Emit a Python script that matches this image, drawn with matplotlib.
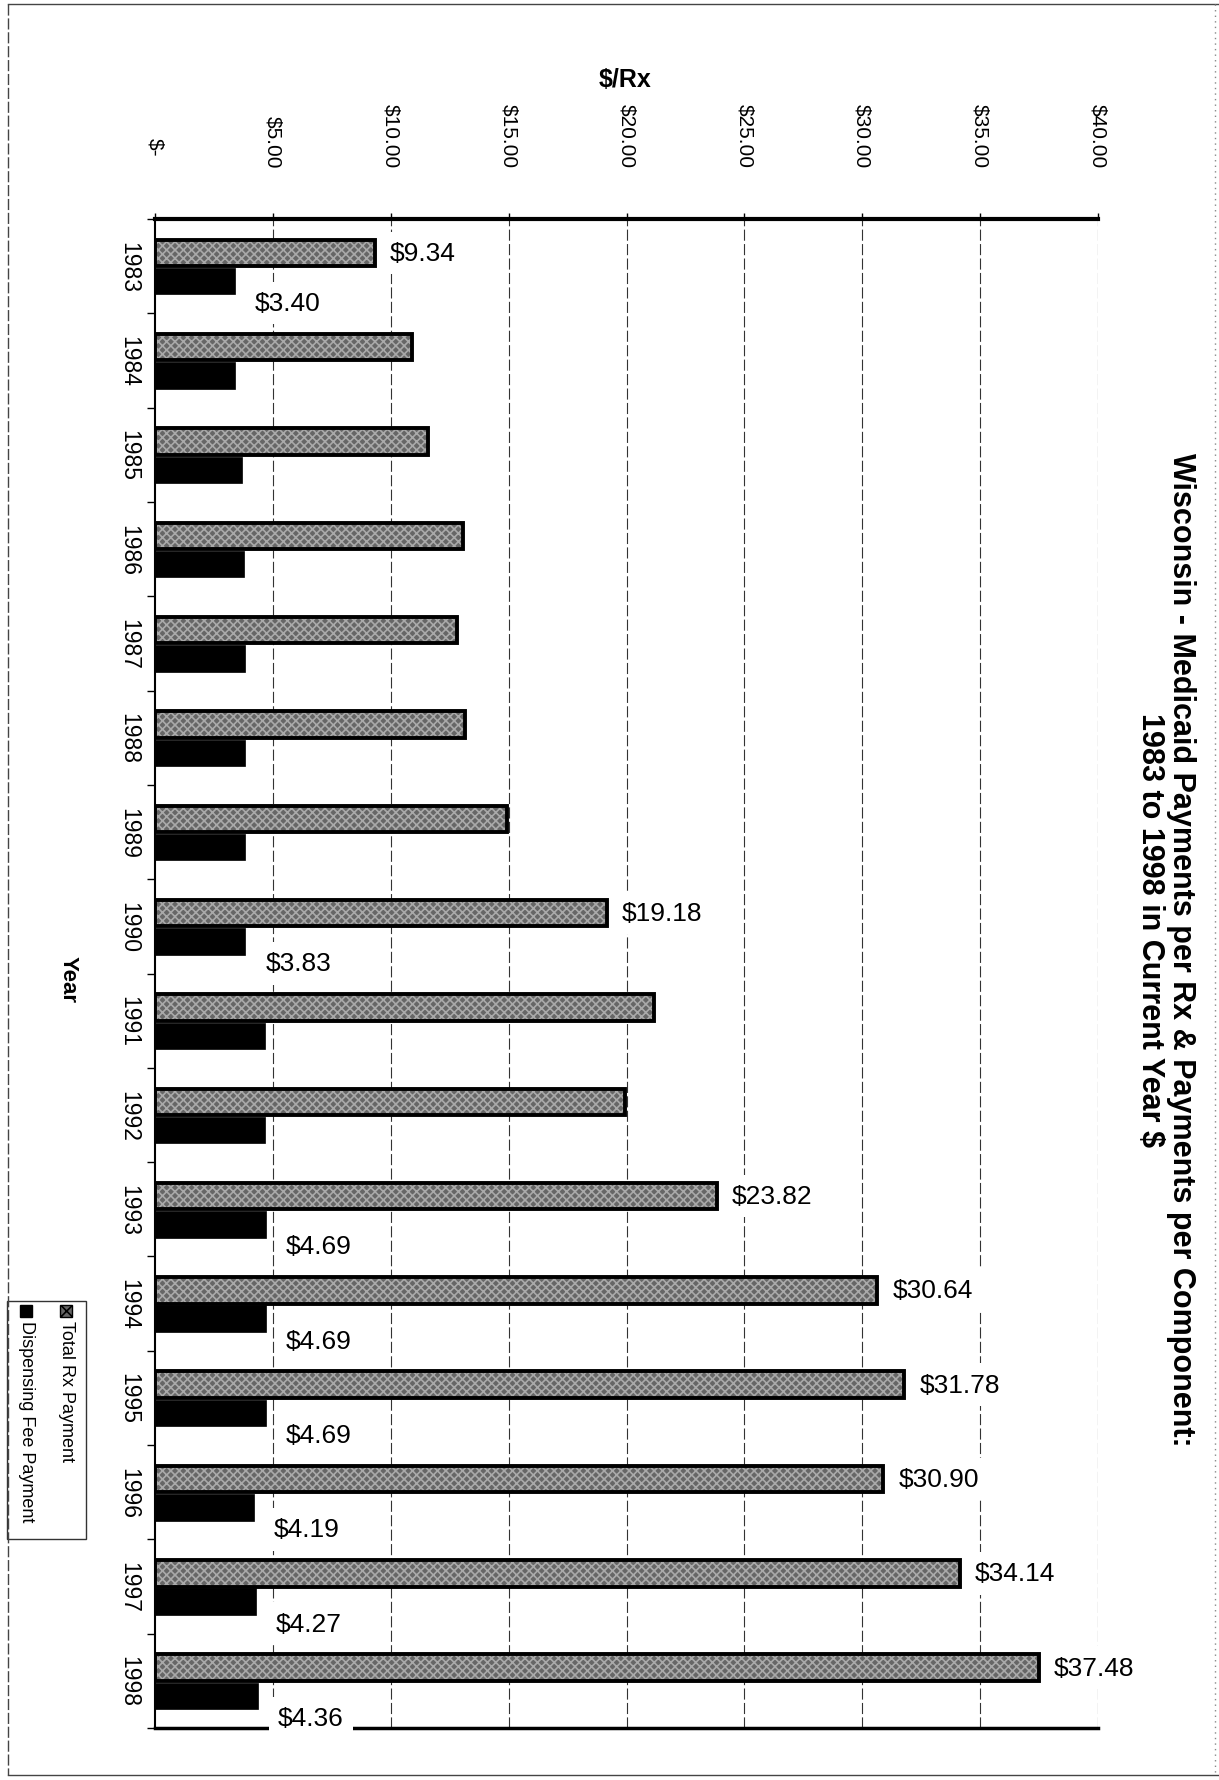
import numpy as np
import matplotlib
matplotlib.use("Agg")
import matplotlib.pyplot as plt
from matplotlib.patches import Rectangle
from matplotlib.lines import Line2D

plt.rcParams['font.family'] = ['Liberation Sans', 'DejaVu Sans']
plt.rcParams['hatch.linewidth'] = 1.2

# ---- data -------------------------------------------------------------
years = [1983, 1984, 1985, 1986, 1987, 1988, 1989, 1990,
         1991, 1992, 1993, 1994, 1995, 1996, 1997, 1998]
total_rx = [9.34, 10.92, 11.60, 13.05, 12.82, 13.15, 14.95, 19.18,
            21.15, 19.93, 23.82, 30.64, 31.78, 30.90, 34.14, 37.48]
dispensing_fee = [3.40, 3.40, 3.70, 3.78, 3.82, 3.82, 3.83, 3.83,
                  4.65, 4.65, 4.69, 4.69, 4.69, 4.19, 4.27, 4.36]
labeled_years = [1983, 1990, 1993, 1994, 1995, 1996, 1997, 1998]
value_ticks = [0, 5, 10, 15, 20, 25, 30, 35, 40]
value_tick_labels = ["$-", "$5.00", "$10.00", "$15.00", "$20.00",
                     "$25.00", "$30.00", "$35.00", "$40.00"]
series_names = ["Total Rx Payment", "Dispensing Fee Payment"]
title_lines = ["Wisconsin - Medicaid Payments per Rx & Payments per Component:",
               "1983 to 1998 in Current Year $"]
value_axis_title = "$/Rx"
category_axis_title = "Year"

# ---- figure / axes (page is laid out sideways) -----------------------
W, H = 1219, 1781
fig = plt.figure(figsize=(W / 100, H / 100), dpi=100)
fig.patch.set_facecolor('white')

ax_left, ax_right, ax_top, ax_bottom = 155, 1098, 220, 1729
ax = fig.add_axes([ax_left / W, 1 - ax_bottom / H,
                   (ax_right - ax_left) / W, (ax_bottom - ax_top) / H])

pos = np.arange(len(years))
tot_off, fee_off, bar_h = -0.14, 0.16, 0.28
TOTAL_FACE, TOTAL_SPECKLE = '#666666', '#a9a9a9'

# textured grey bars for total payment, outlined in black
ax.barh(pos + tot_off, total_rx, height=bar_h, color=TOTAL_FACE,
        edgecolor=TOTAL_SPECKLE, hatch='xxxx', linewidth=0, zorder=2)
ax.barh(pos + tot_off, total_rx, height=bar_h, fill=False,
        edgecolor='black', linewidth=2.8, zorder=2.1)
# solid black bars for the dispensing fee
ax.barh(pos + fee_off, dispensing_fee, height=bar_h, color='black',
        edgecolor='black', linewidth=0.5, zorder=2)

ax.set_xlim(value_ticks[0], value_ticks[-1])
ax.set_ylim(len(years) - 0.5, -0.5)

# dashed gridlines at each value tick
for v in value_ticks[1:]:
    ax.axvline(v, color='#333333', lw=0.8, ls=(0, (10, 3)), zorder=1)

ax.spines['right'].set_visible(False)
ax.spines['top'].set_linewidth(3.0)
ax.spines['left'].set_linewidth(1.5)
ax.spines['bottom'].set_linewidth(2.5)

ax.set_xticks(value_ticks)
ax.xaxis.set_ticks_position('top')
ax.tick_params(axis='x', length=4.5, width=1, direction='out',
               labeltop=False, labelbottom=False)
ax.set_yticks(np.arange(len(years) + 1) - 0.5)
ax.tick_params(axis='y', length=5.5, width=1, direction='out',
               labelleft=False, left=True)

# value tick labels, rotated with the page
xt = ax.get_xaxis_transform()
for v, lbl in zip(value_ticks, value_tick_labels):
    gap = 64 if lbl == "$-" else 52
    ax.annotate(lbl, xy=(v, 1), xycoords=xt, xytext=(0, gap),
                textcoords='offset pixels', rotation=-90,
                ha='center', va='bottom', fontsize=15, annotation_clip=False)

# year labels
yt = ax.get_yaxis_transform()
for p, yr in zip(pos, years):
    ax.annotate(str(yr), xy=(0, p), xycoords=yt, xytext=(-15, 0),
                textcoords='offset pixels', rotation=-90,
                ha='right', va='center', fontsize=16.5, annotation_clip=False)

# value labels
label_box = dict(boxstyle='square,pad=0.35', fc='white', ec='none')
for p, yr, t, f in zip(pos, years, total_rx, dispensing_fee):
    if yr not in labeled_years:
        continue
    ax.annotate(f"${t:.2f}", xy=(t, p + tot_off), xytext=(15, 0),
                textcoords='offset pixels', ha='left', va='center',
                fontsize=19, bbox=label_box, zorder=4, annotation_clip=False)
    ax.annotate(f"${f:.2f}", xy=(f, p + fee_off), xytext=(20, -22),
                textcoords='offset pixels', ha='left', va='center',
                fontsize=19, bbox=label_box, zorder=4, annotation_clip=False)

# ---- titles -------------------------------------------------------------
def fx(px):
    return px / W


def fy(py):
    return 1 - py / H


fig.text(fx(1181), fy(950), title_lines[0], rotation=-90, ha='center',
         va='center', fontsize=22, fontweight='bold')
fig.text(fx(1150), fy(930), title_lines[1], rotation=-90, ha='center',
         va='center', fontsize=22, fontweight='bold')
fig.text(fx(625), fy(80), value_axis_title, ha='center', va='center',
         fontsize=18, fontweight='bold')
fig.text(fx(68), fy(980), category_axis_title, rotation=-90, ha='center',
         va='center', fontsize=16, fontweight='bold')

# ---- legend (drawn sideways) ------------------------------------------
lg_x0, lg_x1, lg_y0, lg_y1 = 7, 86, 1302, 1540
fig.add_artist(Rectangle((fx(lg_x0), fy(lg_y1)), fx(lg_x1 - lg_x0),
                         (lg_y1 - lg_y0) / H, transform=fig.transFigure,
                         fill=False, ec='#333333', lw=1))
entries = [(series_names[0], 66, dict(fc=TOTAL_FACE, ec='black', hatch='xxx')),
           (series_names[1], 26, dict(fc='black', ec='black'))]
for name, cx, style in entries:
    sq = 12
    fig.add_artist(Rectangle((fx(cx - sq / 2), fy(1306 + sq)), fx(sq), sq / H,
                             transform=fig.transFigure, lw=1, **style))
    fig.text(fx(cx), fy(1321), name, rotation=-90, ha='center', va='top',
             fontsize=13)

# ---- page frame ----------------------------------------------------------
frame = dict(transform=fig.transFigure, color='#444444', lw=1)
fig.add_artist(Line2D([fx(8), fx(1219)], [fy(5), fy(5)], **frame))
fig.add_artist(Line2D([fx(8), fx(8)], [fy(5), fy(1776)], ls=(0, (8, 2)), **frame))
fig.add_artist(Line2D([fx(8), fx(1219)], [fy(1776), fy(1776)], **frame))
fig.add_artist(Line2D([fx(1215), fx(1215)], [fy(5), fy(1776)],
                      ls=(0, (1, 3)), transform=fig.transFigure,
                      color='#888888', lw=1))

fig.savefig("out.png", dpi=100, facecolor='white')
